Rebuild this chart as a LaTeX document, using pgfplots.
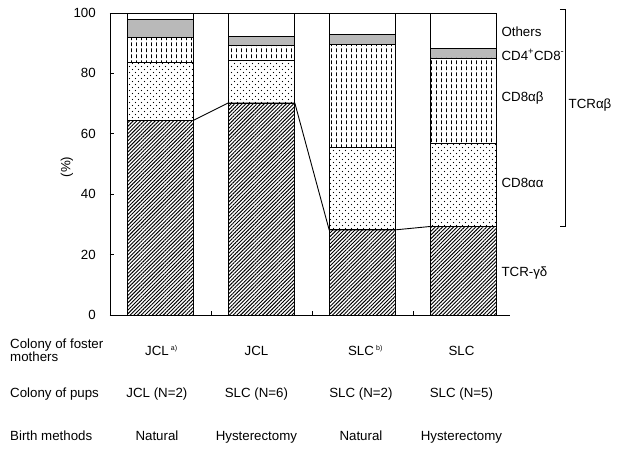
\documentclass[border=0pt]{standalone}
\usepackage{fontspec}
\setmainfont{Liberation Sans}
\usepackage{pgfplots}
\pgfplotsset{compat=1.18}
\usetikzlibrary{patterns.meta}
\newcommand{\fs}{\fontsize{13.3}{15}\selectfont}

\tikzdeclarepattern{
  name=vdash, type=uncolored,
  bottom left={(0pt,0pt)}, top right={(5pt,6pt)}, tile size={(5pt,6pt)},
  code={\draw[line width=0.9pt] (2.5pt,1pt) -- (2.5pt,4.6pt);}
}
\tikzdeclarepattern{
  name=sdots, type=uncolored,
  bottom left={(0pt,0pt)}, top right={(6pt,6pt)}, tile size={(6pt,6pt)},
  code={\fill (1.5pt,1.5pt) circle (0.7pt); \fill (4.5pt,4.5pt) circle (0.7pt);}
}

\begin{document}
\begin{tikzpicture}
\begin{axis}[
  x=101pt, y=3.02pt,
  xmin=-0.5, xmax=3.46, ymin=0, ymax=100,
  enlarge x limits=false, enlarge y limits=false,
  axis x line*=bottom, axis y line*=left,
  ybar stacked, bar width=0.66,
  xtick={0.5,1.5,2.5}, xticklabels={},
  ytick={0,20,40,60,80,100},
  tick align=inside, major tick length=4pt,
  tick style={black, line width=0.7pt},
  axis line style={line width=0.9pt},
  clip=false,
  /pgf/number format/assume math mode=true,
  yticklabel style={font=\fs, inner sep=0pt, xshift=-14pt},
  every axis plot/.append style={draw=black, line width=0.8pt},
]
\addplot[pattern={Lines[angle=45,distance=2.6pt,line width=0.95pt]}, pattern color=black]
  coordinates {(0,64.5) (1,70.2) (2,28.2) (3,29.3)};
\addplot[pattern=sdots, pattern color=black]
  coordinates {(0,19.0) (1,14.0) (2,27.4) (3,27.6)};
\addplot[pattern=vdash, pattern color=black]
  coordinates {(0,8.5) (1,5.0) (2,34.1) (3,28.2)};
\addplot[fill=gray!55]
  coordinates {(0,6.0) (1,3.1) (2,3.1) (3,3.3)};
\addplot[fill=white]
  coordinates {(0,2.0) (1,7.7) (2,7.2) (3,11.6)};

% right-hand labels
\node[anchor=west, inner sep=0pt, font=\fs] at (axis cs:3.375,93.8) {Others};
\node[anchor=west, inner sep=0pt, font=\fs] at (axis cs:3.375,86.1) {CD4\textsuperscript{+}CD8\textsuperscript{-}};
\node[anchor=west, inner sep=0pt, font=\fs] at (axis cs:3.375,71.9) {CD8αβ};
\node[anchor=west, inner sep=0pt, font=\fs] at (axis cs:3.375,43.7) {CD8αα};
\node[anchor=west, inner sep=0pt, font=\fs] at (axis cs:3.375,13.9) {TCR-γδ};
\draw[line width=0.9pt] (axis cs:3.955,101.3) -| (axis cs:4.01,29.3) -- (axis cs:3.955,29.3);
\node[anchor=west, inner sep=0pt, font=\fs] at (axis cs:4.04,69.5) {TCRαβ};

% y label
\node[rotate=90, font=\fs] at (axis cs:-0.926,49) {(\%)};

% bottom table
\node[anchor=base west, inner sep=0pt, font=\fs] at (axis cs:-1.49,-11.03) {Colony of foster};
\node[anchor=base west, inner sep=0pt, font=\fs] at (axis cs:-1.49,-15.46) {mothers};
\node[anchor=base west, inner sep=0pt, font=\fs] at (axis cs:-1.49,-27.32) {Colony of pups};
\node[anchor=base west, inner sep=0pt, font=\fs] at (axis cs:-1.49,-41.72) {Birth methods};

\node[anchor=base, inner sep=0pt, font=\fs] at (axis cs:-0.035,-13.41) {JCL\rlap{\,\textsuperscript{\scriptsize a)}}};
\node[anchor=base, inner sep=0pt, font=\fs] at (axis cs:0.95,-13.41) {JCL};
\node[anchor=base, inner sep=0pt, font=\fs] at (axis cs:1.985,-13.41) {SLC\rlap{\,\textsuperscript{\scriptsize b)}}};
\node[anchor=base, inner sep=0pt, font=\fs] at (axis cs:2.98,-13.41) {SLC};

\node[anchor=base, inner sep=0pt, font=\fs] at (axis cs:-0.035,-27.32) {JCL (N=2)};
\node[anchor=base, inner sep=0pt, font=\fs] at (axis cs:0.95,-27.32) {SLC (N=6)};
\node[anchor=base, inner sep=0pt, font=\fs] at (axis cs:1.985,-27.32) {SLC (N=2)};
\node[anchor=base, inner sep=0pt, font=\fs] at (axis cs:2.98,-27.32) {SLC (N=5)};

\node[anchor=base, inner sep=0pt, font=\fs] at (axis cs:-0.035,-41.72) {Natural};
\node[anchor=base, inner sep=0pt, font=\fs] at (axis cs:0.95,-41.72) {Hysterectomy};
\node[anchor=base, inner sep=0pt, font=\fs] at (axis cs:1.985,-41.72) {Natural};
\node[anchor=base, inner sep=0pt, font=\fs] at (axis cs:2.98,-41.72) {Hysterectomy};

\coordinate (bbA) at (axis cs:-1.589,104.3);
\coordinate (bbB) at (axis cs:4.540,-44.37);
\end{axis}

\begin{axis}[
  x=101pt, y=3.02pt,
  xmin=-0.5, xmax=3.46, ymin=0, ymax=100,
  enlarge x limits=false, enlarge y limits=false,
  hide axis, clip=false,
]
\addplot[black, line width=0.9pt, mark=none]
  coordinates {(0.33,64.5) (0.67,70.2) (1.33,70.2) (1.67,28.2) (2.33,28.2) (2.67,29.3)};
\addplot[black, line width=0.9pt, mark=none]
  coordinates {(-0.5,100) (3.33,100)};
\end{axis}
\pgfresetboundingbox
\path[use as bounding box] (bbA) rectangle (bbB);
\end{tikzpicture}
\end{document}
